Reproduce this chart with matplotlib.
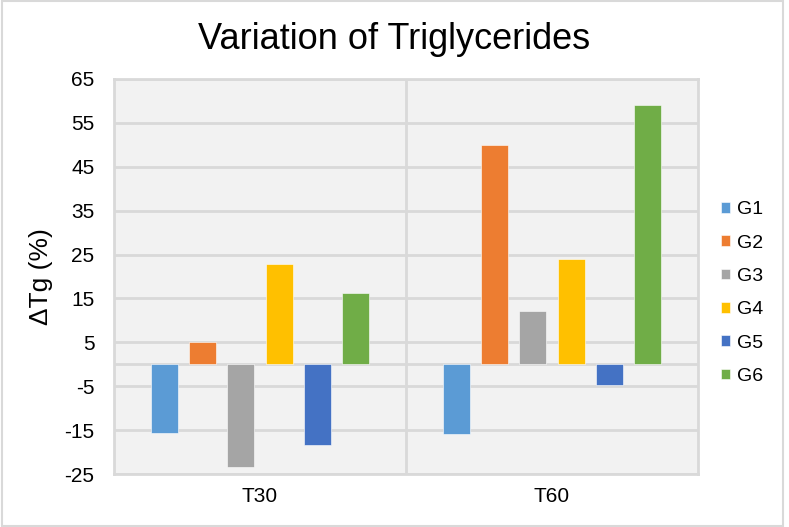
import numpy as np
import matplotlib
matplotlib.use('Agg')
import matplotlib.pyplot as plt
from matplotlib.patches import Rectangle

plt.rcParams['font.family'] = ['Liberation Sans', 'DejaVu Sans']

# data
categories = ['T30', 'T60']
groups = ['G1', 'G2', 'G3', 'G4', 'G5', 'G6']
values = {
    'G1': [-15.6, -15.9],
    'G2': [5.1, 49.9],
    'G3': [-23.4, 12.1],
    'G4': [22.9, 24.1],
    'G5': [-18.5, -4.8],
    'G6': [16.3, 59.0],
}
colors = ['#5B9BD5', '#ED7D31', '#A5A5A5', '#FFC000', '#4472C4', '#70AD47']
yticks = np.arange(-25, 66, 10)

fig = plt.figure(figsize=(7.89, 5.27), dpi=100)
fig.patches.append(Rectangle((0.002, 0.002), 0.99, 0.996, transform=fig.transFigure,
                             fill=False, edgecolor='#D9D9D9', linewidth=1.5))

ax = fig.add_axes([114 / 789, 53 / 527, 584 / 789, 395 / 527])
ax.set_facecolor('#F2F2F2')

x = np.arange(len(categories))
pitch = 0.131
width = 0.0925
for i, g in enumerate(groups):
    ax.bar(x + (i - 2.5) * pitch, values[g], width, color=colors[i], label=g,
           zorder=3, edgecolor='white', linewidth=0.4)

ax.set_xlim(-0.5, 1.5)
ax.set_ylim(-25, 65)
ax.set_yticks(yticks)
ax.set_yticklabels([str(v) for v in yticks], fontsize=15)
ax.set_xticks(x)
ax.set_xticklabels(categories, fontsize=15)
ax.tick_params(axis='x', length=0, pad=9)
ax.tick_params(axis='y', length=0, pad=14)

ax.grid(axis='y', color='#D9D9D9', linewidth=2, zorder=1)
ax.axhline(0, color='#D9D9D9', linewidth=2, zorder=2)
ax.axvline(0.5, color='#D9D9D9', linewidth=2, zorder=1)
for s in ax.spines.values():
    s.set_color('#D9D9D9')
    s.set_linewidth(2)

ax.set_ylabel('ΔTg (%)', fontsize=19, labelpad=8)
fig.suptitle('Variation of Triglycerides', fontsize=26, y=0.958)

ax.legend(loc='center left', bbox_to_anchor=(1.01, 0.458), frameon=False,
          fontsize=14, handlelength=0.45, handleheight=0.45, handletextpad=0.35,
          labelspacing=0.84)

fig.savefig('out.png', dpi=100)
